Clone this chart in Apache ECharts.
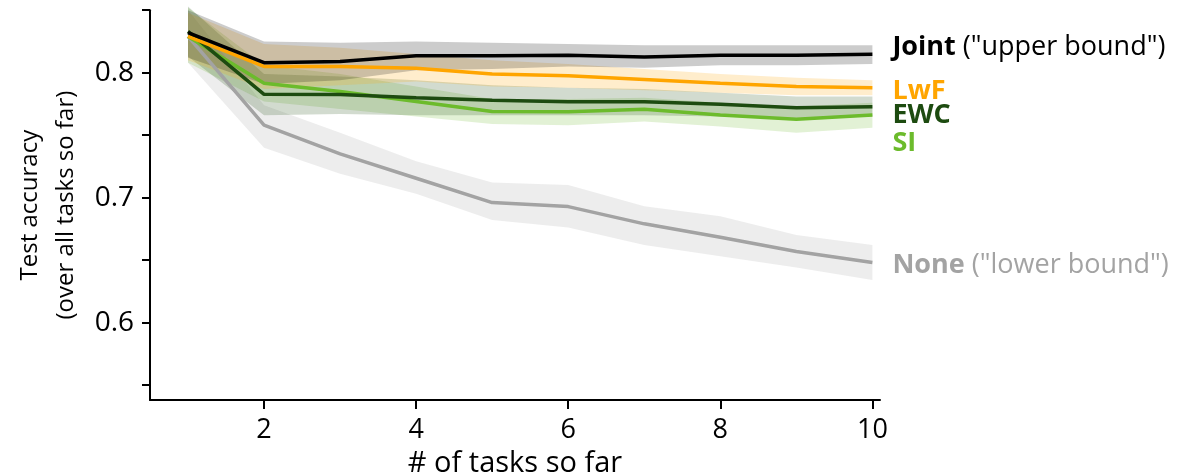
<!DOCTYPE html>
<html><head><meta charset="utf-8">
<script src="https://cdn.jsdelivr.net/npm/echarts@6/dist/echarts.min.js"></script>
<style>html,body{margin:0;padding:0;background:#fff}#c{width:1179px;height:475px}</style>
</head><body><div id="c"></div>
<script>
const tasks = [1,2,3,4,5,6,7,8,9,10];
const xTickValues = [2,4,6,8,10];
const yTickValues = [0.55,0.6,0.65,0.7,0.75,0.8,0.85];
const yLabelValues = [0.6,0.7,0.8];

const jointMean = [0.832,0.808,0.809,0.8135,0.8135,0.814,0.8125,0.814,0.814,0.8147];
const jointLo   = [0.812,0.791,0.794,0.802,0.803,0.805,0.804,0.806,0.806,0.807];
const jointHi   = [0.850,0.825,0.824,0.825,0.824,0.823,0.822,0.822,0.822,0.822];

const lwfMean = [0.829,0.805,0.805,0.8035,0.799,0.7975,0.7945,0.7915,0.789,0.788];
const lwfLo   = [0.810,0.787,0.790,0.793,0.789,0.788,0.786,0.784,0.782,0.782];
const lwfHi   = [0.848,0.823,0.820,0.815,0.810,0.807,0.803,0.799,0.796,0.794];

const ewcMean = [0.833,0.7827,0.7826,0.780,0.778,0.7768,0.7768,0.7747,0.772,0.7728];
const ewcLo   = [0.813,0.766,0.767,0.766,0.766,0.766,0.766,0.765,0.763,0.765];
const ewcHi   = [0.853,0.799,0.797,0.794,0.790,0.788,0.787,0.784,0.781,0.781];

const siMean = [0.829,0.7915,0.785,0.777,0.769,0.7688,0.7707,0.7662,0.7627,0.7662];
const siLo   = [0.808,0.777,0.771,0.765,0.759,0.758,0.761,0.757,0.752,0.756];
const siHi   = [0.852,0.806,0.799,0.789,0.779,0.779,0.780,0.776,0.773,0.776];

const noneMean = [0.829,0.758,0.735,0.7155,0.696,0.6928,0.679,0.6683,0.6568,0.648];
const noneLo   = [0.808,0.740,0.719,0.703,0.682,0.676,0.662,0.653,0.644,0.634];
const noneHi   = [0.850,0.774,0.752,0.729,0.712,0.710,0.693,0.685,0.670,0.662];

const methods = [
  {key:'None', mean:noneMean, lo:noneLo, hi:noneHi, color:'#a3a3a3', band:'rgba(163,163,163,0.2)', label:'{b|None}{n| ("lower bound")}', off:[0,3]},
  {key:'SI', mean:siMean, lo:siLo, hi:siHi, color:'#6cbb2c', band:'rgba(108,187,44,0.2)', label:'{b|SI}', off:[0,28]},
  {key:'EWC', mean:ewcMean, lo:ewcLo, hi:ewcHi, color:'#1d4b10', band:'rgba(29,75,16,0.2)', label:'{b|EWC}', off:[0,9]},
  {key:'LwF', mean:lwfMean, lo:lwfLo, hi:lwfHi, color:'#ffa500', band:'rgba(255,165,0,0.2)', label:'{b|LwF}', off:[0,4]},
  {key:'Joint', mean:jointMean, lo:jointLo, hi:jointHi, color:'#000000', band:'rgba(0,0,0,0.2)', label:'{b|Joint}{n| ("upper bound")}', off:[0,-7]}
];

const series = [];
methods.forEach(m => {
  series.push({type:'custom', silent:true, z:1, clip:false,
    data:tasks.map((x,i)=>[x,m.mean[i]]),
    renderItem:(params, api) => {
      if (params.dataIndex !== 0) return null;
      const upper = tasks.map((x,i)=>api.coord([x, m.hi[i]]));
      const lower = tasks.map((x,i)=>api.coord([x, m.lo[i]])).reverse();
      return {type:'polygon', shape:{points:upper.concat(lower)}, style:{fill:m.band, stroke:null}};
    }
  });
});
methods.forEach(m => {
  series.push({type:'line', name:m.key, data:tasks.map((x,i)=>[x,m.mean[i]]), symbol:'none', z:5,
    lineStyle:{color:m.color, width:3.5},
    endLabel:{show:true, formatter:m.label, distance:20, offset:m.off,
      rich:{
        b:{fontFamily:'Open Sans', fontWeight:'bold', fontSize:27, color:m.color},
        n:{fontFamily:'Open Sans', fontWeight:'normal', fontSize:27, color:m.color}
      }}
  });
});

const chart = echarts.init(document.getElementById('c'), null, {renderer:'canvas'});
chart.setOption({
  animation:false,
  grid:{left:150, right:299, top:10.2, bottom:75, containLabel:false, outerBoundsMode:'none'},
  xAxis:{type:'value', min:0.5, max:10.1,
    name:'# of tasks so far', nameLocation:'middle', nameGap:44,
    nameTextStyle:{fontFamily:'Open Sans', fontSize:29, color:'#000'},
    axisLine:{show:true, lineStyle:{color:'#000', width:2}},
    axisTick:{show:true, customValues:xTickValues, length:9, lineStyle:{color:'#000', width:2}},
    axisLabel:{customValues:xTickValues, margin:17, fontFamily:'Open Sans', fontSize:27, color:'#000'},
    splitLine:{show:false}
  },
  yAxis:{type:'value', min:0.538, max:0.85,
    name:'Test accuracy\n(over all tasks so far)', nameLocation:'middle', nameGap:64, nameRotate:90,
    nameTextStyle:{fontFamily:'Open Sans', fontSize:24, color:'#000', lineHeight:36},
    axisLine:{show:true, lineStyle:{color:'#000', width:2}},
    axisTick:{show:true, customValues:yTickValues, length:8, lineStyle:{color:'#000', width:2}},
    axisLabel:{customValues:yLabelValues, margin:16, fontFamily:'Open Sans', fontSize:28, color:'#000',
      formatter:v=>v.toFixed(1)},
    splitLine:{show:false}
  },
  series:series
});
</script>
</body></html>
